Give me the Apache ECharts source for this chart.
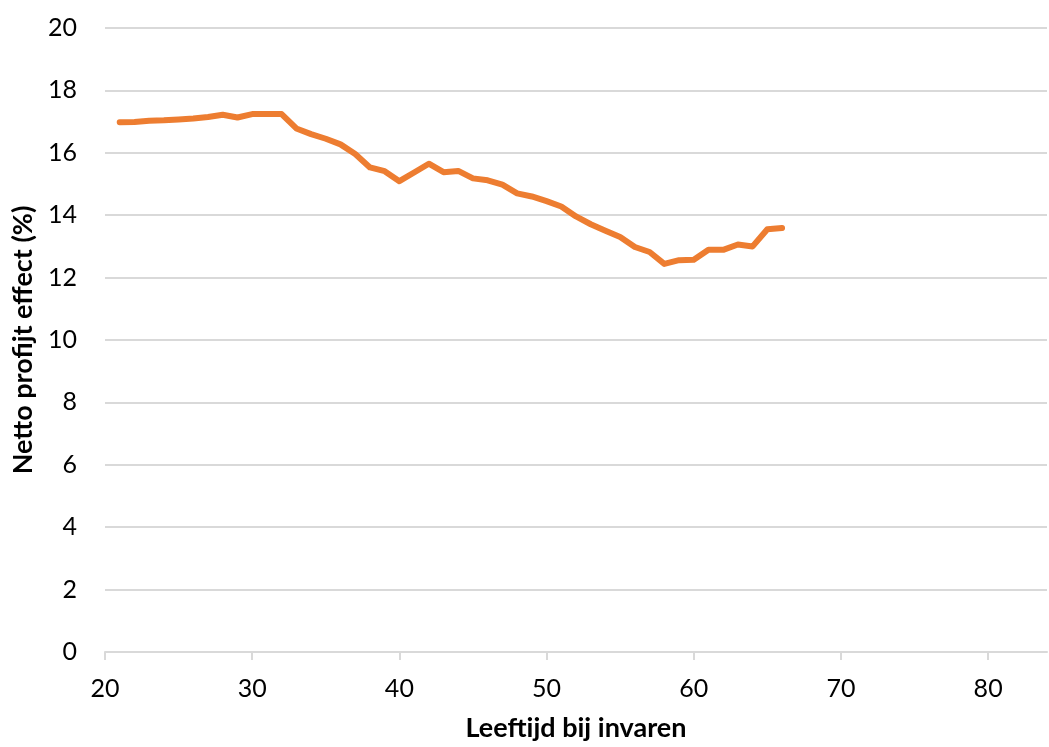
<!DOCTYPE html>
<html>
<head>
<meta charset="utf-8">
<script src="https://cdn.jsdelivr.net/npm/echarts@6/dist/echarts.min.js"></script>
<style>
  html, body { margin: 0; padding: 0; background: #fff; }
  #chart { width: 1049px; height: 747px; }
</style>
</head>
<body>
<div id="chart"></div>
<script>
// leeftijd bij invaren (jaren)
const ages = [21, 22, 23, 24, 25, 26, 27, 28, 29, 30, 31, 32, 33, 34, 35, 36, 37, 38, 39, 40,
  41, 42, 43, 44, 45, 46, 47, 48, 49, 50, 51, 52, 53, 54, 55, 56, 57, 58, 59, 60,
  61, 62, 63, 64, 65, 66];
// netto profijt effect (%)
const effect = [16.98, 16.99, 17.03, 17.04, 17.07, 17.1, 17.15, 17.22, 17.13, 17.24, 17.24, 17.24, 16.78, 16.6, 16.45, 16.27, 15.96, 15.53, 15.41, 15.09,
  15.37, 15.65, 15.38, 15.42, 15.18, 15.12, 14.98, 14.7, 14.6, 14.45, 14.28, 13.96, 13.71, 13.5, 13.3, 12.98, 12.82, 12.44, 12.56, 12.57,
  12.89, 12.89, 13.06, 13.0, 13.55, 13.59];
const xTicks = [20, 30, 40, 50, 60, 70, 80];

const chart = echarts.init(document.getElementById('chart'));
const font = 'Lato, "Open Sans", sans-serif';

chart.setOption({
  animation: false,
  grid: { left: 105, right: 2, top: 28, bottom: 92 },
  xAxis: {
    type: 'value',
    min: 20,
    max: 84,
    interval: 10,
    name: 'Leeftijd bij invaren',
    nameLocation: 'middle',
    nameGap: 63,
    nameTextStyle: { fontFamily: font, fontSize: 27, fontWeight: 'bold', color: '#000' },
    axisLine: { show: true, lineStyle: { color: '#d9d9d9', width: 2 } },
    axisTick: { show: true, customValues: xTicks, length: 8, lineStyle: { color: '#d9d9d9', width: 2 } },
    axisLabel: { customValues: xTicks, margin: 24, fontFamily: font, fontSize: 25, color: '#000' },
    splitLine: { show: false }
  },
  yAxis: {
    type: 'value',
    min: 0,
    max: 20,
    interval: 2,
    name: 'Netto profijt effect (%)',
    nameLocation: 'middle',
    nameGap: 66,
    nameTextStyle: { fontFamily: font, fontSize: 27, fontWeight: 'bold', color: '#000' },
    axisLine: { show: false },
    axisTick: { show: false },
    axisLabel: { margin: 28, fontFamily: font, fontSize: 25, color: '#000' },
    splitLine: { lineStyle: { color: '#d9d9d9', width: 2 } }
  },
  series: [{
    type: 'line',
    data: ages.map((a, i) => [a, effect[i]]),
    showSymbol: false,
    lineStyle: { color: '#ed7d31', width: 6, cap: 'round', join: 'round' }
  }]
});
</script>
</body>
</html>
